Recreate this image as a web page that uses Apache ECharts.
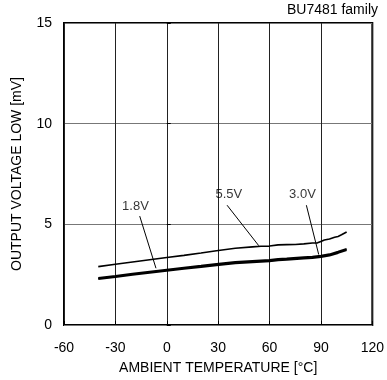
<!DOCTYPE html>
<html>
<head>
<meta charset="utf-8">
<script src="https://cdn.jsdelivr.net/npm/echarts@6/dist/echarts.min.js"></script>
<style>html,body{margin:0;padding:0;background:#fff;}#c{width:387px;height:380px;}</style>
</head>
<body>
<div id="c"></div>
<script>
var xTicks = [-60, -30, 0, 30, 60, 90, 120];
var yTicks = [0, 5, 10, 15];

var temp55 = [-40, -30, -20, -10, 0, 10, 20, 29, 30, 40, 50, 55, 60, 65, 70, 75, 80, 85, 88, 90, 92, 95, 98, 100, 102, 105];
var v55 =    [2.90, 3.02, 3.13, 3.24, 3.35, 3.46, 3.58, 3.69, 3.75, 3.81, 3.88, 3.91, 3.92, 3.98, 3.99, 4.00, 4.03, 4.07, 4.08, 4.15, 4.22, 4.27, 4.36, 4.40, 4.48, 4.62];

var temp18 = [-40, -30, -20, -10, 0, 10, 20, 29, 30, 40, 50, 60, 65, 70, 80, 85, 90, 95, 100, 105];
var v18 =    [2.28, 2.38, 2.49, 2.59, 2.69, 2.79, 2.88, 2.97, 3.03, 3.07, 3.12, 3.17, 3.22, 3.24, 3.30, 3.33, 3.38, 3.45, 3.58, 3.72];
var temp30 = [-40, -30, -20, -10, 0, 10, 20, 29, 30, 40, 50, 60, 65, 70, 80, 85, 90, 95, 100, 105];
var v30 =    [2.34, 2.44, 2.55, 2.65, 2.75, 2.85, 2.94, 3.03, 3.09, 3.13, 3.18, 3.23, 3.28, 3.30, 3.36, 3.39, 3.44, 3.51, 3.64, 3.78];

var labelNames = ['1.8V', '5.5V', '3.0V'];
var labelX = [-18.3, 36.2, 79.2];
var labelY = [5.91, 6.5, 6.5];
var leaderFromX = [-15.8, 35.2, 81.5];
var leaderFromY = [5.41, 5.95, 5.95];
var leaderToX = [-6.3, 53.7, 88.7];
var leaderToY = [2.82, 3.94, 3.50];

function pairs(xs, ys) { return xs.map(function (x, i) { return [x, ys[i]]; }); }

var FONT = "'Liberation Sans', Arial, sans-serif";
var series = [
  { name: '5.5V', type: 'line', data: pairs(temp55, v55), showSymbol: false, lineStyle: { color: '#000', width: 1.6 }, z: 5 },
  { name: '1.8V', type: 'line', data: pairs(temp18, v18), showSymbol: false, lineStyle: { color: '#000', width: 2 }, z: 5 },
  { name: '3.0V', type: 'line', data: pairs(temp30, v30), showSymbol: false, lineStyle: { color: '#000', width: 2 }, z: 5 }
];
for (var i = 0; i < labelNames.length; i++) {
  series.push({
    type: 'line', data: [[leaderFromX[i], leaderFromY[i]], [leaderToX[i], leaderToY[i]]],
    showSymbol: false, lineStyle: { color: '#000', width: 1 }, z: 6, silent: true
  });
}
series.push({
  type: 'scatter', symbolSize: 0, z: 7,
  data: labelNames.map(function (n, i) { return { value: [labelX[i], labelY[i]], name: n }; }),
  label: { show: true, position: 'inside', formatter: function (p) { return p.name; }, color: '#000', fontSize: 13, fontFamily: FONT }
});

var chart = echarts.init(document.getElementById('c'), null, { renderer: 'canvas' });
chart.setOption({
  animation: false,
  backgroundColor: '#fff',
  title: { text: 'BU7481 family', right: 9, top: 3, padding: 0, textStyle: { fontSize: 14, fontWeight: 'normal', color: '#000', fontFamily: FONT } },
  grid: { left: 64, right: 9, top: 23, bottom: 50, show: true, borderColor: '#000', borderWidth: 2, backgroundColor: 'transparent' },
  xAxis: {
    type: 'value', min: xTicks[0], max: xTicks[xTicks.length - 1], interval: 30,
    name: 'AMBIENT TEMPERATURE [°C]', nameLocation: 'middle', nameGap: 36,
    nameTextStyle: { fontSize: 14, color: '#000', fontFamily: FONT },
    axisLine: { show: false },
    axisTick: { show: true, inside: true, length: 4, lineStyle: { color: '#000' } },
    axisLabel: { fontSize: 14, color: '#000', margin: 16, fontFamily: FONT },
    splitLine: { show: true, lineStyle: { color: '#222', width: 1 } }
  },
  yAxis: {
    type: 'value', min: yTicks[0], max: yTicks[yTicks.length - 1], interval: 5,
    name: 'OUTPUT VOLTAGE LOW [mV]', nameLocation: 'middle', nameGap: 40,
    nameTextStyle: { fontSize: 14, color: '#000', fontFamily: FONT },
    axisLine: { show: false },
    axisTick: { show: true, inside: true, length: 4, lineStyle: { color: '#000' } },
    axisLabel: { fontSize: 14, color: '#000', margin: 12, fontFamily: FONT },
    splitLine: { show: true, lineStyle: { color: '#777', width: 1 } }
  },
  series: series
});
</script>
</body>
</html>
